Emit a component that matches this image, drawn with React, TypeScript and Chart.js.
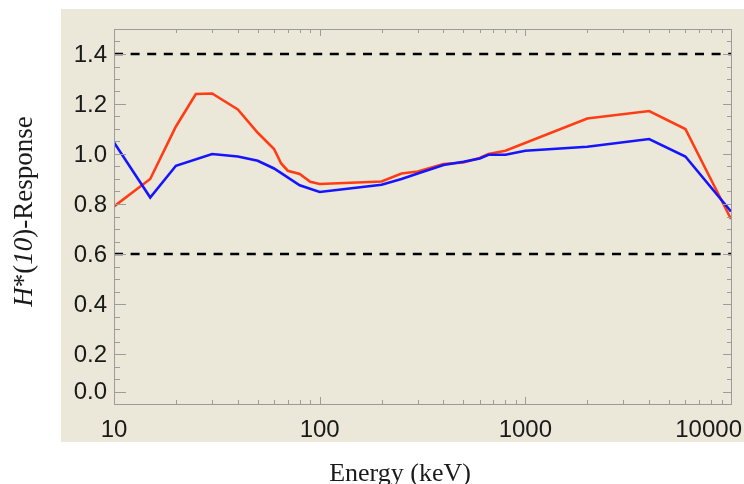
import React, { useEffect, useRef } from "react";
import { Chart, registerables } from "chart.js";

Chart.register(...registerables);

// Energy (keV) and response values
const energyRed = [10, 15, 20, 25, 30, 40, 50, 60, 65, 70, 80, 90, 100, 200, 250, 300, 400, 500, 600, 662, 800, 2000, 4000, 6000, 10000];
const responseRed = [0.79, 0.9, 1.11, 1.24, 1.242, 1.178, 1.085, 1.02, 0.962, 0.933, 0.92, 0.889, 0.88, 0.89, 0.922, 0.93, 0.96, 0.966, 0.984, 1.0, 1.013, 1.142, 1.172, 1.1, 0.74];

const energyBlue = [10, 15, 20, 30, 40, 50, 60, 80, 100, 200, 250, 300, 400, 500, 600, 662, 800, 1000, 2000, 4000, 6000, 10000];
const responseBlue = [1.046, 0.826, 0.953, 1.0, 0.99, 0.973, 0.942, 0.875, 0.848, 0.877, 0.9, 0.922, 0.956, 0.969, 0.982, 0.997, 0.997, 1.013, 1.029, 1.06, 0.99, 0.77];

const limitEnergy = [10, 10000];
const upperLimit = [1.4, 1.4];
const lowerLimit = [0.6, 0.6];

const yTickValues = [0.05, 0.2, 0.4, 0.6, 0.8, 1.0, 1.2, 1.4];
const yTickLabels = ["0.0", "0.2", "0.4", "0.6", "0.8", "1.0", "1.2", "1.4"];
const xTickValues = [10, 100, 1000, 10000];
const xTickLabels = ["10", "100", "1000", "10000"];

const xTitle = "Energy (keV)";
const yTitleParts: { t: string; italic: boolean }[] = [
  { t: "H", italic: true },
  { t: "*(", italic: false },
  { t: "10", italic: true },
  { t: ")-Response", italic: false },
];

const BEIGE = "#EBE7D9";
const FRAME = "#9c9c9c";
const TEXT = "#1a1a1a";
const SANS = '"Liberation Sans", Arial, sans-serif';
const SERIF = '"Liberation Serif", "Times New Roman", serif';

const pts = (xs: number[], ys: number[]) => xs.map((x, i) => ({ x, y: ys[i] }));

const decorPlugin = {
  id: "decor",
  beforeDraw(chart: any) {
    const ctx = chart.ctx;
    ctx.save();
    ctx.fillStyle = "#ffffff";
    ctx.fillRect(0, 0, chart.width, chart.height);
    ctx.fillStyle = BEIGE;
    ctx.fillRect(61, 9, chart.width - 61, 433);
    ctx.restore();
  },
  afterDraw(chart: any) {
    const ctx = chart.ctx;
    const a = chart.chartArea;
    const xs = chart.scales.x;
    const ys = chart.scales.y;
    ctx.save();
    // frame
    ctx.strokeStyle = FRAME;
    ctx.lineWidth = 1;
    ctx.strokeRect(a.left + 0.5, a.top + 0.5, a.right - a.left, a.bottom - a.top);

    const hLine = (x1: number, x2: number, yy: number) => {
      ctx.beginPath();
      ctx.moveTo(x1, Math.round(yy) + 0.5);
      ctx.lineTo(x2, Math.round(yy) + 0.5);
      ctx.stroke();
    };
    const vLine = (xx: number, y1: number, y2: number) => {
      ctx.beginPath();
      ctx.moveTo(Math.round(xx) + 0.5, y1);
      ctx.lineTo(Math.round(xx) + 0.5, y2);
      ctx.stroke();
    };

    // y ticks
    for (const v of yTickValues) {
      const py = ys.getPixelForValue(v);
      hLine(a.left, a.left + 12, py);
      hLine(a.right, a.right - 8, py);
    }
    for (let k = 2; k <= 29; k++) {
      const v = k * 0.05;
      if (yTickValues.some((t) => Math.abs(t - v) < 1e-6)) continue;
      const py = ys.getPixelForValue(v);
      hLine(a.left, a.left + 6, py);
      hLine(a.right, a.right - 4, py);
    }
    // x ticks
    for (const v of xTickValues) {
      const px = xs.getPixelForValue(v);
      vLine(px, a.bottom, a.bottom - 7);
      vLine(px, a.top, a.top + 7);
    }
    for (const d of [10, 100, 1000]) {
      for (let m = 2; m <= 9; m++) {
        const px = xs.getPixelForValue(d * m);
        vLine(px, a.bottom, a.bottom - 4);
        vLine(px, a.top, a.top + 4);
      }
    }

    // tick labels
    ctx.fillStyle = TEXT;
    ctx.font = `24px ${SANS}`;
    ctx.textAlign = "right";
    ctx.textBaseline = "middle";
    yTickValues.forEach((v, i) => {
      ctx.fillText(yTickLabels[i], a.left - 7, ys.getPixelForValue(v) + 1);
    });
    ctx.textAlign = "left";
    ctx.textBaseline = "alphabetic";
    xTickValues.forEach((v, i) => {
      const w = ctx.measureText(xTickLabels[i]).width;
      let cx = xs.getPixelForValue(v);
      if (cx + w / 2 > chart.width - 2) cx = chart.width - 2 - w / 2;
      ctx.fillText(xTickLabels[i], cx - w / 2, 436.5);
    });

    // x title
    ctx.font = `26px ${SERIF}`;
    ctx.textAlign = "center";
    ctx.fillText(xTitle, 400, 480.5);

    // y title (mixed italic)
    ctx.translate(32, 211.5);
    ctx.rotate(-Math.PI / 2);
    ctx.textAlign = "left";
    const fontFor = (it: boolean) => `${it ? "italic " : ""}27px ${SERIF}`;
    let total = 0;
    for (const p of yTitleParts) {
      ctx.font = fontFor(p.italic);
      total += ctx.measureText(p.t).width;
    }
    let cur = -total / 2;
    for (const p of yTitleParts) {
      ctx.font = fontFor(p.italic);
      ctx.fillText(p.t, cur, 0);
      cur += ctx.measureText(p.t).width;
    }
    ctx.restore();
  },
};

export default function App() {
  const ref = useRef<HTMLCanvasElement>(null);
  useEffect(() => {
    if (!ref.current) return;
    const chart = new Chart(ref.current, {
      type: "line",
      data: {
        datasets: [
          {
            label: "blue",
            data: pts(energyBlue, responseBlue),
            borderColor: "#1414FF",
            borderWidth: 2.6,
            pointRadius: 0,
            tension: 0,
            fill: false,
          },
          {
            label: "red",
            data: pts(energyRed, responseRed),
            borderColor: "#FF3C14",
            borderWidth: 2.6,
            pointRadius: 0,
            tension: 0,
            fill: false,
          },
          {
            label: "upper",
            data: pts(limitEnergy, upperLimit),
            borderColor: "#000000",
            borderWidth: 2.6,
            borderDash: [9, 7.6],
            pointRadius: 0,
            fill: false,
          },
          {
            label: "lower",
            data: pts(limitEnergy, lowerLimit),
            borderColor: "#000000",
            borderWidth: 2.6,
            borderDash: [9, 7.6],
            pointRadius: 0,
            fill: false,
          },
        ],
      },
      options: {
        animation: false,
        responsive: false,
        devicePixelRatio: 1,
        layout: { padding: { left: 114, top: 29, right: 13, bottom: 80 } },
        plugins: { legend: { display: false }, tooltip: { enabled: false } },
        scales: {
          x: { type: "logarithmic", min: 10, max: 10000, display: false },
          y: { type: "linear", min: 0, max: 1.5, display: false },
        },
      },
      plugins: [decorPlugin],
    });
    return () => chart.destroy();
  }, []);
  return (
    <div style={{ position: "fixed", left: 0, top: 0, width: 744, height: 484 }}>
      <canvas ref={ref} width={744} height={484} style={{ display: "block" }} />
    </div>
  );
}
